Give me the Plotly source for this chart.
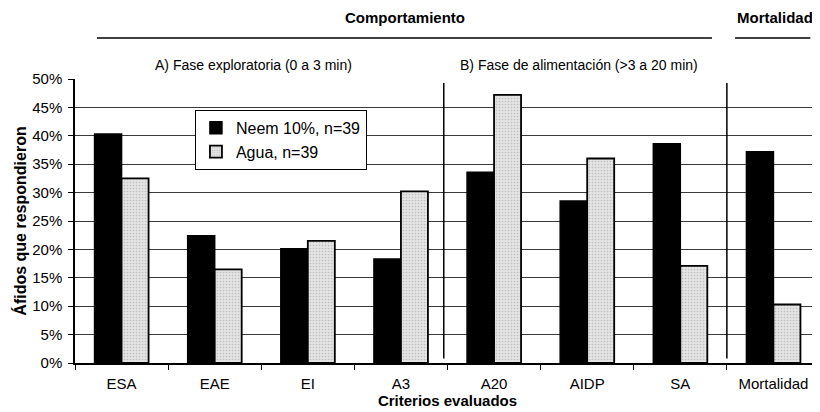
import plotly.graph_objects as go

categories = ["ESA", "EAE", "EI", "A3", "A20", "AIDP", "SA", "Mortalidad"]
neem = [40.3, 22.4, 20.1, 18.3, 33.6, 28.5, 38.6, 37.2]
agua = [32.5, 16.5, 21.5, 30.2, 47.2, 36.0, 17.1, 10.3]
y_ticks = [0, 5, 10, 15, 20, 25, 30, 35, 40, 45, 50]
y_tick_labels = [f"{v}%" for v in y_ticks]

FONT = "Liberation Sans, Arial, sans-serif"

fig = go.Figure()
fig.add_trace(go.Bar(
    x=categories, y=neem, name="Neem 10%, n=39",
    marker=dict(color="black", line=dict(color="black", width=1.5)),
))
fig.add_trace(go.Bar(
    x=categories, y=agua, name="Agua, n=39",
    marker=dict(color="#e2e2e2", line=dict(color="black", width=1.8),
                pattern=dict(shape=".", fgcolor="#9a9a9a", bgcolor="#e4e4e4",
                             size=3, solidity=0.25)),
))

# page body has an 8px margin, so the figure is 8px smaller than the window
fig.update_layout(
    width=812, height=404,
    margin=dict(l=67, r=0, t=71, b=49),
    paper_bgcolor="white", plot_bgcolor="white",
    barmode="group", bargap=0.42, bargroupgap=0,
    font=dict(family=FONT, size=15, color="black"),
    showlegend=True,
    legend=dict(x=0.161, y=0.891, xanchor="left", yanchor="top",
                bgcolor="white", bordercolor="black", borderwidth=1,
                font=dict(size=16, family=FONT), tracegroupgap=0,
                itemwidth=30),
)

fig.update_yaxes(
    range=[0, 50], tickvals=y_ticks, ticktext=y_tick_labels,
    showgrid=True, gridcolor="#3a3a3a", gridwidth=1,
    showline=True, linecolor="black", linewidth=1.5,
    ticks="outside", ticklen=5, tickcolor="black",
    tickfont=dict(size=15), ticklabelstandoff=3,
    title=dict(text="<b>Áfidos que respondieron</b>", font=dict(size=16), standoff=2),
    zeroline=False,
)
fig.update_xaxes(
    type="category", range=[-0.5, 7.5],
    showline=True, linecolor="black", linewidth=1.5,
    ticks="outside", tickson="boundaries", ticklen=5, tickcolor="black",
    tickfont=dict(size=15), ticklabelstandoff=6,
    title=dict(text="<b>Criterios evaluados</b>", font=dict(size=15), standoff=0),
    showgrid=False,
)

# phase separators
for xs in [3.46, 6.5]:
    fig.add_shape(type="line", xref="x", yref="y", x0=xs, x1=xs, y0=0.8, y1=49.3,
                  line=dict(color="black", width=1.5))

# top header lines
fig.add_shape(type="line", xref="paper", yref="paper", x0=0.0295, x1=0.855, y0=1.144, y1=1.144,
              line=dict(color="black", width=1.5))
fig.add_shape(type="line", xref="paper", yref="paper", x0=0.886, x1=0.987, y0=1.144, y1=1.144,
              line=dict(color="black", width=1.5))

annos = [
    ("<b>Comportamiento</b>", 0.443, 1.215, 15),
    ("<b>Mortalidad</b>", 0.94, 1.215, 15),
    ("A) Fase exploratoria (0 a 3 min)", 0.239, 1.049, 14),
    ("B) Fase de alimentación (>3 a 20 min)", 0.676, 1.049, 14),
]
for text, x, y, s in annos:
    fig.add_annotation(text=text, x=x, y=y, xref="paper", yref="paper",
                       xanchor="center", yanchor="middle", showarrow=False,
                       font=dict(size=s, family=FONT, color="black"))

fig.write_html("out.html")
